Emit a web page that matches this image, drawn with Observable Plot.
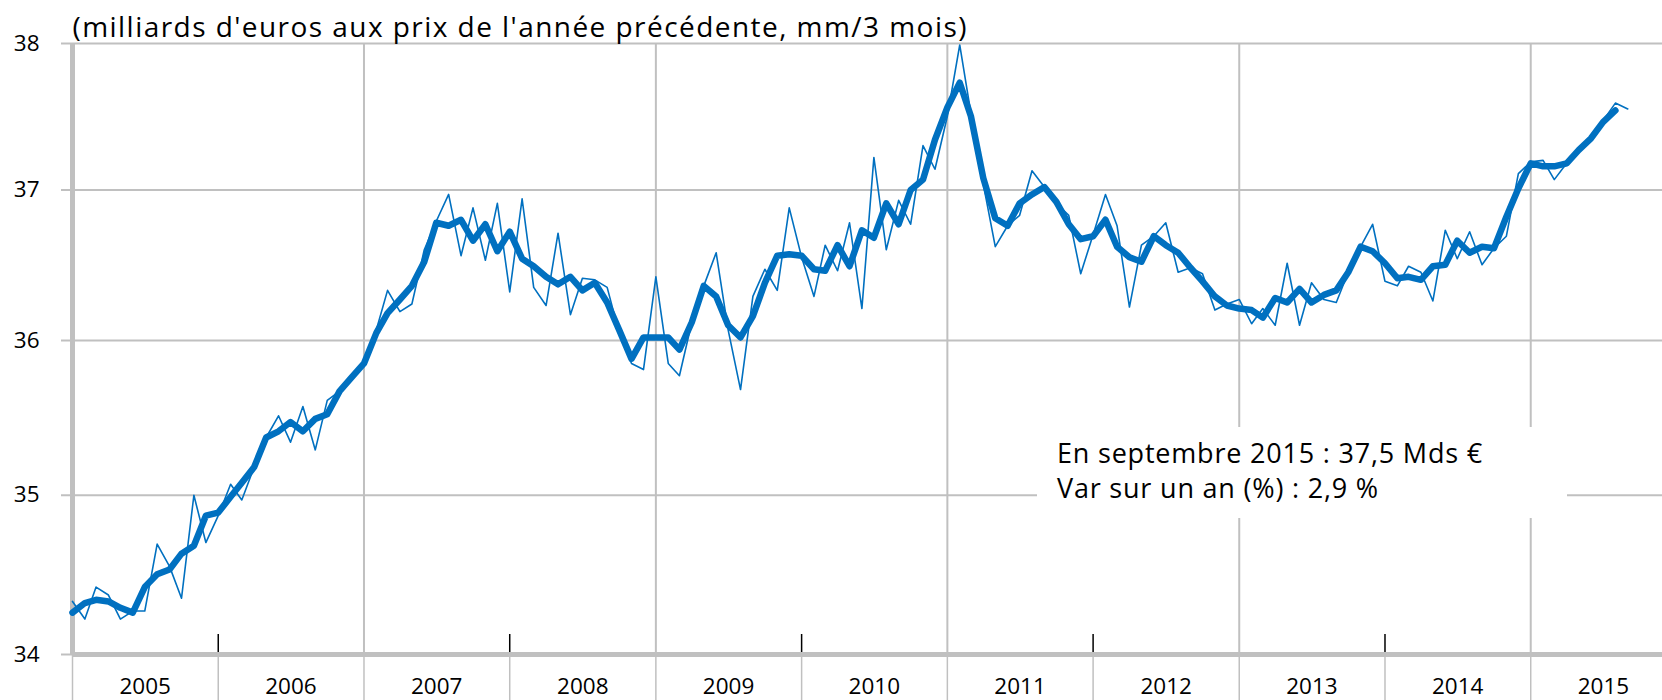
<!DOCTYPE html>
<html><head><meta charset="utf-8">
<script src="https://cdn.jsdelivr.net/npm/d3@7"></script>
<script src="https://cdn.jsdelivr.net/npm/@observablehq/plot@0.6"></script>
<style>
body{margin:0;background:#fff;}
#wrap{position:relative;width:1662px;height:700px;overflow:hidden;font-family:"Open Sans",sans-serif;}
#note{position:absolute;left:1037px;top:427px;width:530px;height:91px;background:#fff;box-sizing:border-box;padding:8px 0 0 20px;font-size:27px;letter-spacing:0.8px;line-height:35px;color:#000;white-space:nowrap;}
</style></head><body><div id="wrap"></div>
<script>
const startYear = 2005;
// Monthly series (thin line), Jan 2005 - Sep 2015
const monthly = [
  34.33,34.22,34.42,34.37,34.22,34.27,34.27,34.69,34.55,34.35,35.00,34.70,
  34.87,35.07,34.97,35.18,35.37,35.51,35.34,35.57,35.29,35.61,35.67,35.77,
  35.87,36.07,36.33,36.19,36.24,36.60,36.79,36.97,36.56,36.88,36.53,36.91,
  36.32,36.94,36.35,36.23,36.71,36.17,36.41,36.40,36.35,36.05,35.85,35.81,
  36.42,35.85,35.77,36.12,36.36,36.58,36.07,35.68,36.29,36.47,36.33,36.88,
  36.55,36.29,36.63,36.46,36.78,36.21,37.22,36.60,36.93,36.77,37.30,37.14,
  37.50,37.99,37.52,37.04,36.62,36.76,36.83,37.13,37.02,36.91,36.83,36.44,
  36.70,36.97,36.76,36.22,36.63,36.69,36.78,36.45,36.48,36.44,36.20,36.24,
  36.27,36.11,36.21,36.10,36.51,36.10,36.38,36.27,36.25,36.45,36.62,36.77,
  36.39,36.36,36.49,36.45,36.26,36.73,36.54,36.72,36.50,36.61,36.69,37.11,
  37.19,37.20,37.07,37.18,37.27,37.35,37.47,37.59,37.55
];
// 3-month moving average (thick line), Jan 2005 - Aug 2015
const mm3 = [
  34.26,34.32,34.34,34.33,34.29,34.26,34.42,34.50,34.53,34.63,34.68,34.87,
  34.89,34.99,35.08,35.18,35.37,35.41,35.47,35.41,35.49,35.52,35.67,35.76,
  35.85,36.05,36.18,36.27,36.36,36.52,36.78,36.76,36.80,36.66,36.77,36.59,
  36.72,36.54,36.49,36.42,36.37,36.42,36.33,36.38,36.25,36.07,35.88,36.02,
  36.02,36.02,35.94,36.12,36.36,36.29,36.10,36.02,36.16,36.38,36.56,36.57,
  36.56,36.47,36.46,36.63,36.49,36.73,36.68,36.91,36.77,37.00,37.07,37.34,
  37.56,37.73,37.50,37.08,36.81,36.76,36.91,36.97,37.02,36.92,36.77,36.67,
  36.69,36.80,36.62,36.55,36.52,36.69,36.63,36.58,36.48,36.39,36.29,36.23,
  36.21,36.20,36.15,36.28,36.25,36.34,36.25,36.30,36.33,36.45,36.62,36.59,
  36.51,36.41,36.42,36.40,36.49,36.50,36.66,36.58,36.62,36.61,36.82,37.01,
  37.18,37.16,37.16,37.18,37.27,37.35,37.46,37.54
];
const yTicks = [34, 35, 36, 37, 38];
const years = [2005,2006,2007,2008,2009,2010,2011,2012,2013,2014,2015];
const titleText = "(milliards d'euros aux prix de l'année précédente, mm/3 mois)";
const noteLines = ["En septembre 2015 : 37,5 Mds €", "Var sur un an (%) : 2,9 %"];

const monthDate = i => new Date(Date.UTC(startYear, i, 1));
const thin = monthly.map((v, i) => ({date: monthDate(i), value: v}));
const thick = mm3.map((v, i) => ({date: monthDate(i), value: v}));
const yearStarts = years.map(y => new Date(Date.UTC(y, 0, 1)));
const yearMids = years.map(y => new Date(Date.UTC(y, 6, 2)));
const oddStarts = yearStarts.filter((d, i) => years[i] % 2 === 1 && i > 0);
const evenStarts = yearStarts.filter((d, i) => years[i] % 2 === 0);

const blue = "#0070C0", grid = "#c0c0c0";
const chart = Plot.plot({
  width: 1662, height: 700,
  marginLeft: 72, marginRight: 0, marginTop: 43, marginBottom: 46,
  style: {fontFamily: "'Open Sans', sans-serif", background: "white", overflow: "visible"},
  x: {type: "utc", domain: [new Date(Date.UTC(2005, 0, 1)), new Date(Date.UTC(2015, 10, 27))], axis: null},
  y: {type: "log", domain: [34, 38], axis: null},
  marks: [
    Plot.ruleY(yTicks.slice(1), {stroke: grid, strokeWidth: 2}),
    Plot.ruleX(oddStarts, {stroke: grid, strokeWidth: 2}),
    Plot.axisX(yearStarts, {tickSize: 46, fill: "none", stroke: grid, strokeWidth: 1.5, label: null}),
    Plot.ruleX(evenStarts, {stroke: "black", strokeWidth: 1.5, insetTop: 591}),
    Plot.ruleX([yearStarts[0]], {stroke: grid, strokeWidth: 5}),
    Plot.ruleY([yTicks[0]], {stroke: grid, strokeWidth: 5}),
    Plot.axisY(yTicks, {tickSize: 11, tickPadding: 22, stroke: grid, strokeWidth: 2, fill: "black", fontSize: 22.5, label: null, tickFormat: d => String(d)}),
    Plot.axisX(yearMids, {tickSize: 0, tickPadding: 24, fill: "black", fontSize: 22.5, label: null, tickFormat: d => String(d.getUTCFullYear())}),
    Plot.lineY(thin, {x: "date", y: "value", stroke: blue, strokeWidth: 1.6}),
    Plot.lineY(thick, {x: "date", y: "value", stroke: blue, strokeWidth: 6.5, strokeLinejoin: "round", strokeLinecap: "round"}),
    Plot.text([titleText], {text: d => d, frameAnchor: "top-left", lineAnchor: "bottom", textAnchor: "start", dy: -7, fontSize: 28, fill: "black"})
  ]
});
d3.select(chart).selectAll("text")
  .filter(function() { return this.textContent === titleText; })
  .style("letter-spacing", "1.45px");
const wrap = document.getElementById("wrap");
wrap.appendChild(chart);
const note = document.createElement("div");
note.id = "note";
note.innerHTML = noteLines.map(s => `<div>${s}</div>`).join("");
wrap.appendChild(note);
</script>
</body></html>
